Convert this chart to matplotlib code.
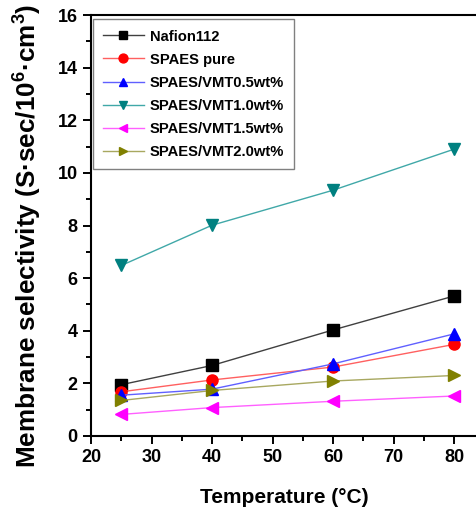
import numpy as np
import matplotlib
matplotlib.use('Agg')
import matplotlib.pyplot as plt
from matplotlib.ticker import MultipleLocator

plt.rcParams.update({
    "font.family": ["Liberation Sans", "DejaVu Sans"],
    "font.weight": "bold",
    "mathtext.fontset": "custom",
    "mathtext.rm": "Liberation Sans:bold",
    "mathtext.default": "rm",
})

temps = [25, 40, 60, 80]
nafion = [1.95, 2.68, 4.03, 5.32]
spaes_pure = [1.68, 2.13, 2.62, 3.48]
vmt05 = [1.55, 1.78, 2.74, 3.88]
vmt10 = [6.48, 8.01, 9.34, 10.9]
vmt15 = [0.82, 1.08, 1.32, 1.52]
vmt20 = [1.35, 1.73, 2.09, 2.30]

series = [
    ("Nafion112", nafion, "s", "black", "#404040"),
    ("SPAES pure", spaes_pure, "o", "red", "#ff6060"),
    ("SPAES/VMT0.5wt%", vmt05, "^", "blue", "#6060ff"),
    ("SPAES/VMT1.0wt%", vmt10, "v", "#008080", "#40a8a8"),
    ("SPAES/VMT1.5wt%", vmt15, "<", "magenta", "#ff60ff"),
    ("SPAES/VMT2.0wt%", vmt20, ">", "#808000", "#a8a860"),
]

fig = plt.figure(figsize=(4.77, 5.08), dpi=100)
ax = fig.add_axes([91/477, 72/508, (477-91)/477, 421/508])

for name, vals, mk, mc, lc in series:
    ax.plot(temps, vals, color=lc, lw=1.0, marker=mk, markersize=8,
            markerfacecolor=mc, markeredgecolor=mc, label=name)

ax.set_xlim(20, 83.8)
ax.set_ylim(0, 16)
ax.xaxis.set_major_locator(MultipleLocator(10))
ax.xaxis.set_minor_locator(MultipleLocator(5))
ax.yaxis.set_major_locator(MultipleLocator(2))
ax.yaxis.set_minor_locator(MultipleLocator(1))
ax.tick_params(which='major', direction='out', length=6, width=1.4, labelsize=13)
ax.tick_params(which='minor', direction='out', length=3.5, width=1.4)
ax.spines['right'].set_visible(False)
for s in ['left', 'bottom', 'top']:
    ax.spines[s].set_linewidth(1.5)
for lab in ax.get_xticklabels() + ax.get_yticklabels():
    lab.set_fontweight('bold')

ax.set_xlabel("Temperature (°C)", fontsize=15, fontweight='bold', labelpad=16)
ax.set_ylabel("Membrane selectivity (S·sec/10$^{6}$·cm$^{3}$)", fontsize=18.8,
              fontweight='bold')
ax.yaxis.set_label_coords(-0.122, 0.476)

leg = ax.legend(loc='upper left', bbox_to_anchor=(0.005, 0.99), borderaxespad=0,
                fontsize=10.6, handlelength=2.75, handletextpad=0.4,
                fancybox=False, framealpha=1, edgecolor='#808080',
                borderpad=0.7, labelspacing=0.62, markerscale=0.8)
leg.get_frame().set_linewidth(1.0)
for t in leg.get_texts():
    t.set_fontweight('bold')

fig.savefig("out.png", dpi=100)
